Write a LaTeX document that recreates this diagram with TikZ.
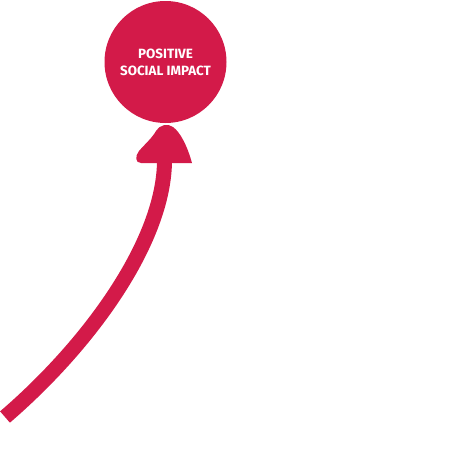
\documentclass[tikz,border=0pt]{standalone}
\usepackage{fontspec}
\setmainfont{Fira Sans}
\definecolor{crimson}{RGB}{211,26,73}
\begin{document}
\begin{tikzpicture}[x=1pt,y=-1pt,
  bubble/.style={circle,fill=crimson,inner sep=0pt,minimum size=122pt,
    text=white,align=center,font=\fontsize{13.4}{17}\selectfont\bfseries},
  shaft/.style={draw=crimson,line width=15pt,line cap=butt},
  headfill/.style={fill=crimson}]
\useasboundingbox (0,0) rectangle (456,472);
\node[bubble] (goal) at (165.5,62) {POSITIVE\\SOCIAL IMPACT};
\coordinate (tail) at (5,417);
\coordinate (tip) at (164.5,160);
\draw[shaft] (tail) .. controls (91,343) and (164.5,240) .. (tip);
\fill[headfill] (157,163) -- (141,163) .. controls (135,163) and (135,156) .. (139,151)
  .. controls (146,143) and (152,138) .. (156,131)
  .. controls (159,125) and (168,123) .. (173,127)
  .. controls (180,132) and (187,145) .. (192,163) -- (172,163) -- cycle;
\end{tikzpicture}
\end{document}
